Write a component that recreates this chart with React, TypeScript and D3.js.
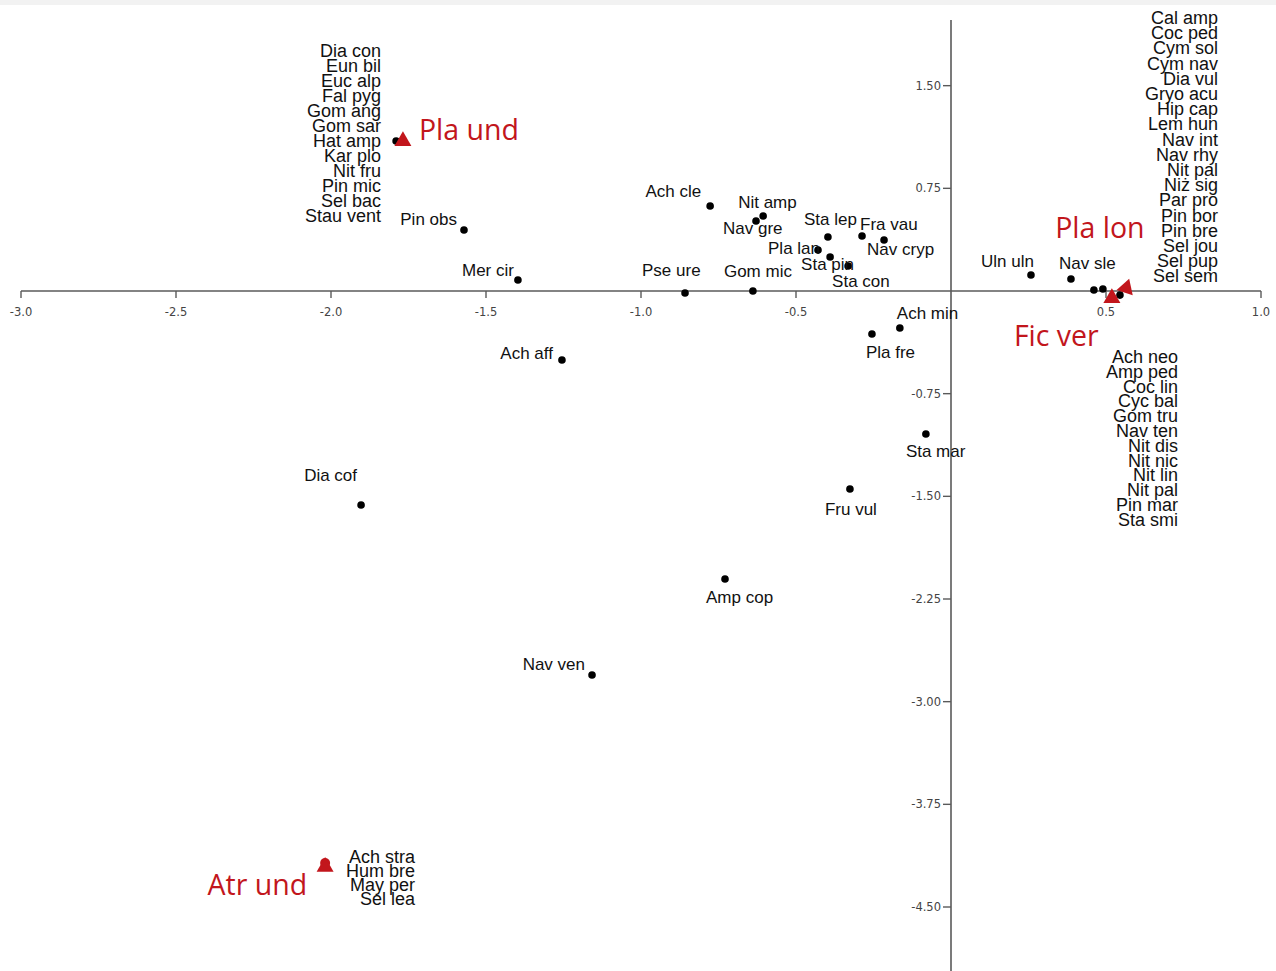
import { useMemo } from "react";
import { scaleLinear, symbol, symbolTriangle, format } from "d3";

// species scores (axis 1, axis 2)
const speciesNames = [
  "Hat amp", "Pin obs", "Mer cir", "Ach cle", "Nit amp", "Nav gre", "Sta lep",
  "Fra vau", "Nav cryp", "Pla lan", "Sta pin", "Sta con", "Pse ure", "Gom mic",
  "Ach min", "Pla fre", "Ach aff", "Sta mar", "Fru vul", "Dia cof", "Amp cop",
  "Nav ven", "Uln uln", "Nav sle", "Ach neo", "Amp ped", "Cal amp", "Ach stra",
];
const speciesX = [
  -1.79, -1.571, -1.397, -0.777, -0.606, -0.629, -0.397,
  -0.287, -0.216, -0.429, -0.39, -0.332, -0.858, -0.639,
  -0.165, -0.255, -1.255, -0.081, -0.326, -1.903, -0.729,
  -1.158, 0.258, 0.387, 0.461, 0.49, 0.545, -2.019,
];
const speciesY = [
  1.096, 0.446, 0.08, 0.621, 0.548, 0.511, 0.394,
  0.402, 0.373, 0.3, 0.248, 0.183, -0.015, 0.0,
  -0.27, -0.314, -0.504, -1.045, -1.446, -1.563, -2.104,
  -2.805, 0.117, 0.088, 0.007, 0.015, -0.03, -4.19,
];

// centroids of the four groups
const groupNames = ["Pla und", "Pla lon", "Fic ver", "Atr und"];
const groupX = [-1.768, 0.565, 0.519, -2.019];
const groupY = [1.103, 0.029, -0.044, -4.2];

// stacked species lists
const listPlaUnd = [
  "Dia con", "Eun bil", "Euc alp", "Fal pyg", "Gom ang", "Gom sar",
  "Hat amp", "Kar plo", "Nit fru", "Pin mic", "Sel bac", "Stau vent",
];
const listPlaLon = [
  "Cal amp", "Coc ped", "Cym sol", "Cym nav", "Dia vul", "Gryo acu",
  "Hip cap", "Lem hun", "Nav int", "Nav rhy", "Nit pal", "Niż sig",
  "Par pro", "Pin bor", "Pin bre", "Sel jou", "Sel pup", "Sel sem",
];
const listFicVer = [
  "Ach neo", "Amp ped", "Coc lin", "Cyc bal", "Gom tru", "Nav ten",
  "Nit dis", "Nit nic", "Nit lin", "Nit pal", "Pin mar", "Sta smi",
];
const listAtrUnd = ["Ach stra", "Hum bre", "May per", "Sel lea"];

const xTicks = [-3, -2.5, -2, -1.5, -1, -0.5, 0.5, 1];
const yTicks = [1.5, 0.75, -0.75, -1.5, -2.25, -3, -3.75, -4.5];

// label placement relative to the dot: [dx, dy(center), anchor]
const labelPos: Record<string, [number, number, string]> = {
  "Pin obs": [-7, -11, "end"],
  "Mer cir": [-4, -10, "end"],
  "Ach cle": [-9, -15, "end"],
  "Nit amp": [-25, -14, "start"],
  "Nav gre": [-33, 7, "start"],
  "Sta lep": [-24, -18, "start"],
  "Fra vau": [-2, -12, "start"],
  "Nav cryp": [-17, 9, "start"],
  "Pla lan": [2, -2, "end"],
  "Sta pin": [-29, 7, "start"],
  "Sta con": [-16, 15, "start"],
  "Pse ure": [-43, -23, "start"],
  "Gom mic": [-29, -20, "start"],
  "Ach min": [-3, -15, "start"],
  "Pla fre": [-6, 18, "start"],
  "Ach aff": [-9, -7, "end"],
  "Sta mar": [-20, 17, "start"],
  "Fru vul": [-25, 20, "start"],
  "Dia cof": [-4, -30, "end"],
  "Amp cop": [-19, 18, "start"],
  "Nav ven": [-7, -11, "end"],
  "Uln uln": [-50, -14, "start"],
  "Nav sle": [-12, -16, "start"],
};

const groupLabelPos: Record<string, [number, number, string]> = {
  "Pla und": [16, -10, "start"],
  "Pla lon": [-71, -59, "start"],
  "Fic ver": [-98, 39, "start"],
  "Atr und": [-18, 19, "end"],
};

const RED = "#c2161c";
const W = 1276;
const H = 971;

function Column({ items, x, y, step }: { items: string[]; x: number; y: number; step: number }) {
  return (
    <g fontFamily="'Liberation Sans', Arial, sans-serif" fontSize={18} textAnchor="end" fill="#111">
      {items.map((t, i) => (
        <text key={t + i} x={x} y={y + i * step + 6}>
          {t}
        </text>
      ))}
    </g>
  );
}

export default function App() {
  const x = useMemo(() => scaleLinear().domain([-3, 1]).range([21, 1261]), []);
  const y = useMemo(() => scaleLinear().domain([0, -4.5]).range([291, 907]), []);
  const tri = symbol().type(symbolTriangle).size(125)() as string;
  const fx = (v: number) => format(".1f")(v).replace("−", "-");
  const fy = (v: number) => format(".2f")(v).replace("−", "-");
  const x0 = x(0);
  const y0 = y(0);
  const axis = "#5a5a5a";

  return (
    <svg
      width={W}
      height={H}
      style={{ position: "absolute", left: 0, top: 0, background: "#fff" }}
    >
      <rect x={0} y={0} width={W} height={5} fill="#f2f2f2" />

      {/* x axis */}
      <line x1={x(-3)} x2={x(1)} y1={y0} y2={y0} stroke={axis} strokeWidth={1.6} />
      {xTicks.map((t) => (
        <g key={t} transform={`translate(${x(t)},${y0})`}>
          <line y1={0} y2={7} stroke={axis} strokeWidth={1.4} />
          <text y={25} textAnchor="middle" fontFamily="'DejaVu Sans', sans-serif" fontSize={11.5} fill="#444">
            {fx(t)}
          </text>
        </g>
      ))}

      {/* y axis */}
      <line x1={x0} x2={x0} y1={20} y2={H} stroke={axis} strokeWidth={1.6} />
      {yTicks.map((t) => (
        <g key={t} transform={`translate(${x0},${y(t)})`}>
          <line x1={-8} x2={0} stroke={axis} strokeWidth={1.4} />
          <text x={-10} y={4} textAnchor="end" fontFamily="'DejaVu Sans', sans-serif" fontSize={11.5} fill="#444">
            {fy(t)}
          </text>
        </g>
      ))}

      {/* species dots */}
      {speciesNames.map((n, i) => (
        <circle key={n} cx={x(speciesX[i])} cy={y(speciesY[i])} r={3.8} fill="#000" />
      ))}

      {/* species labels */}
      <g fontFamily="'Liberation Sans', Arial, sans-serif" fontSize={17} fill="#111">
        {speciesNames.map((n, i) => {
          const p = labelPos[n];
          if (!p) return null;
          return (
            <text key={n} x={x(speciesX[i]) + p[0]} y={y(speciesY[i]) + p[1] + 6} textAnchor={p[2]}>
              {n}
            </text>
          );
        })}
      </g>

      {/* stacked lists */}
      <Column items={listPlaUnd} x={381} y={51} step={15} />
      <Column items={listPlaLon} x={1218} y={18} step={15.2} />
      <Column items={listFicVer} x={1178} y={357} step={14.8} />
      <Column items={listAtrUnd} x={415} y={857} step={14} />

      {/* group centroids */}
      {groupNames.map((n, i) => {
        const gx = x(groupX[i]);
        const gy = y(groupY[i]);
        const p = groupLabelPos[n];
        return (
          <g key={n}>
            {n === "Atr und" && <circle cx={gx} cy={gy - 3} r={5} fill={RED} />}
            <path
              d={tri}
              transform={`translate(${gx},${gy + 1}) rotate(${n === "Pla lon" ? 18 : 0})`}
              fill={RED}
            />
            <text
              x={gx + p[0]}
              y={gy + p[1] + 10}
              textAnchor={p[2]}
              fontFamily="'Open Sans', 'Noto Sans', sans-serif"
              fontSize={28.5}
              fill={RED}
            >
              {n}
            </text>
          </g>
        );
      })}
    </svg>
  );
}
